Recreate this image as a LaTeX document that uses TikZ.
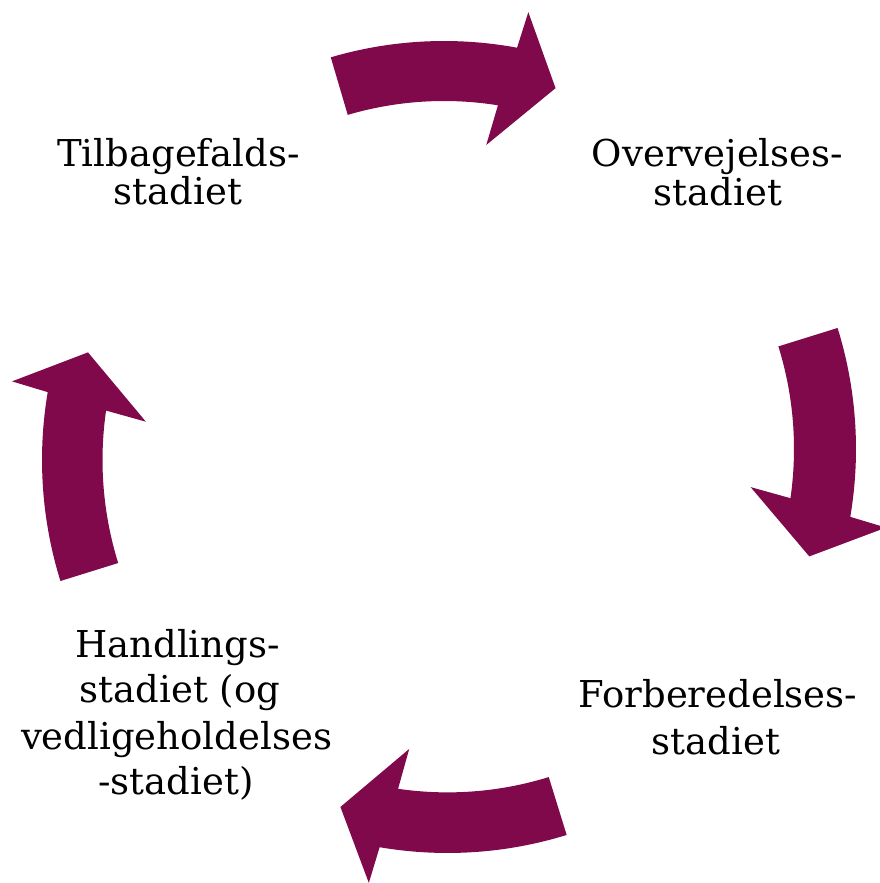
\documentclass[tikz,border=0pt]{standalone}
\usepackage{fontspec}
\setmainfont{DejaVu Serif}
\usetikzlibrary{calc}
\definecolor{cycplum}{RGB}{128,9,76}
\tikzset{
  cycfill/.style={fill=cycplum, draw=none},
  lbl/.style={anchor=base, inner sep=0pt, font=\fontsize{37}{40}\selectfont}
}
% #1,#2 centre; #3 tail angle; #4 inner radius; #5 outer radius
\newcommand\cycarrow[5]{%
  \pgfmathsetmacro\cwo{#5+37}%
  \pgfmathsetmacro\cwi{#4-41}%
  \pgfmathsetmacro\ctip{(#4+#5)/2}%
  \pgfmathsetmacro\cao{#3-26.9}%
  \pgfmathsetmacro\cai{#3-25.5}%
  \pgfmathsetmacro\cawo{#3-27.5}%
  \pgfmathsetmacro\cawi{#3-24.5}%
  \pgfmathsetmacro\cat{#3-33.9}%
  \fill[cycfill] ($(#1,#2)+(#3:#5)$) arc[start angle=#3, end angle=\cao, radius=#5]
    -- ($(#1,#2)+(\cawo:\cwo)$) -- ($(#1,#2)+(\cat:\ctip)$) -- ($(#1,#2)+(\cawi:\cwi)$)
    -- ($(#1,#2)+(\cai:#4)$) arc[start angle=\cai, end angle=#3, radius=#4] -- cycle;
}
\begin{document}
\begin{tikzpicture}[x=1pt,y=1pt]
\useasboundingbox (0,0) rectangle (879,883);
% arrows
\cycarrow{444}{441}{106.4}{341}{401}
\cycarrow{449}{434}{17.3}{345}{407}
\cycarrow{447.5}{433}{-72.8}{342.4}{403}
\cycarrow{449}{423}{197.3}{346.5}{407}
% labels
\node[lbl] (tilA) at (178.5,716) {Tilbagefalds-};
\node[lbl] (tilB) at (178,678) {stadiet};
\node[lbl] (oveA) at (717.5,716) {Overvejelses-};
\node[lbl] (oveB) at (718,677) {stadiet};
\node[lbl] (forA) at (718,175) {Forberedelses-};
\node[lbl] (forB) at (716,128) {stadiet};
\node[lbl] (hanA) at (177.5,225) {Handlings-};
\node[lbl] (hanB) at (180,180) {stadiet (og};
\node[lbl] (hanC) at (176.5,133) {vedligeholdelses};
\node[lbl] (hanD) at (176,88) {-stadiet)};
\end{tikzpicture}
\end{document}
